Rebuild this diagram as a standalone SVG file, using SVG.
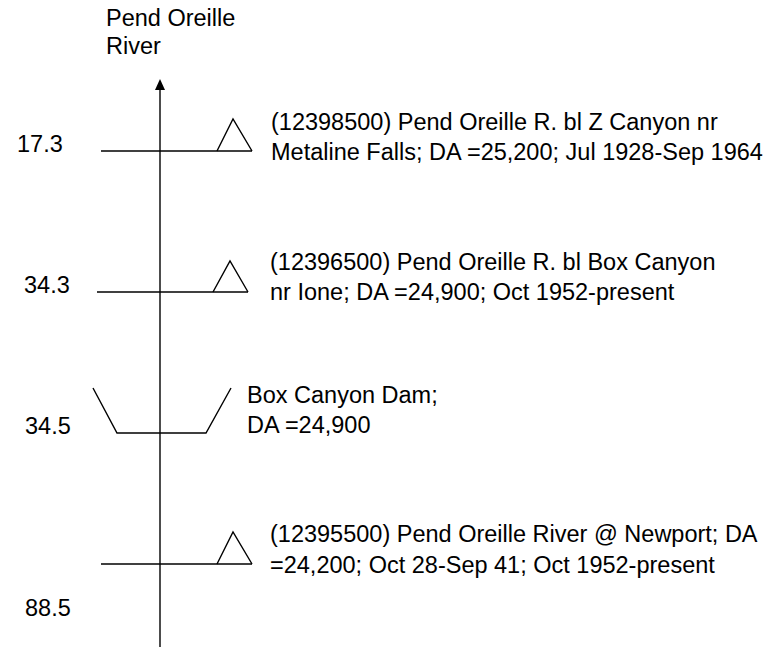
<svg xmlns="http://www.w3.org/2000/svg" width="771" height="647" viewBox="0 0 771 647">
<defs>
<style>
text{font-family:"Liberation Sans",Arial,sans-serif;font-size:23.5px;fill:#000}
.ln{stroke:#000;stroke-width:1.4;fill:none}
.ah{fill:#000}
</style>
</defs>
<rect width="771" height="647" fill="#fff"/>
<g id="title"><text x="106" y="26">Pend Oreille</text><text x="106" y="54">River</text></g>
<g id="connectors">
<line class="ln" x1="160" y1="86" x2="160" y2="647"/>
<path class="ah" d="M160,79 L155,90 L165,90 Z"/>
</g>
<g id="gage-12398500">
<line class="ln" x1="101" y1="151" x2="252" y2="151"/>
<path class="ln" d="M217,151 L233,119 L252,151"/>
<text x="17" y="152">17.3</text>
<text x="271" y="130">(12398500) Pend Oreille R. bl Z Canyon nr</text>
<text x="271" y="160">Metaline Falls; DA =25,200; Jul 1928-Sep 1964</text>
</g>
<g id="gage-12396500">
<line class="ln" x1="97" y1="292" x2="248" y2="292"/>
<path class="ln" d="M213,292 L230,261 L248,292"/>
<text x="24" y="293">34.3</text>
<text x="270" y="270">(12396500) Pend Oreille R. bl Box Canyon</text>
<text x="270" y="300">nr Ione; DA =24,900; Oct 1952-present</text>
</g>
<g id="dam">
<path class="ln" d="M93,388 L117,433 L206,433 L231,388"/>
<text x="25" y="434">34.5</text>
<text x="247" y="403">Box Canyon Dam;</text>
<text x="247" y="433">DA =24,900</text>
</g>
<g id="gage-12395500">
<line class="ln" x1="101" y1="564" x2="252" y2="564"/>
<path class="ln" d="M217,564 L233,532 L252,564"/>
<text x="25" y="616">88.5</text>
<text x="270" y="542">(12395500) Pend Oreille River @ Newport; DA</text>
<text x="270" y="573">=24,200; Oct 28-Sep 41; Oct 1952-present</text>
</g>
</svg>
